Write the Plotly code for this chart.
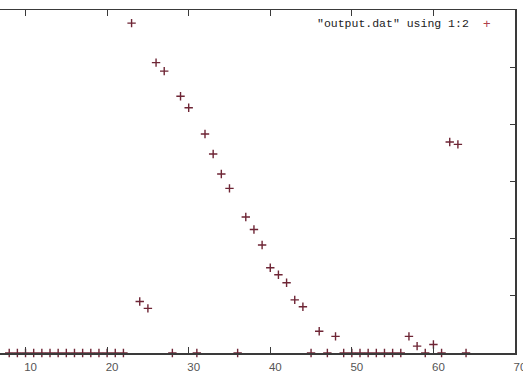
import plotly.graph_objects as go

# data (x integer, y in axis units where right-hand ticks are 1 unit apart)
x_vals = [8, 9, 10, 11, 12, 13, 14, 15, 16, 17, 18, 19, 20, 21, 22,
          23, 24, 25, 26, 27, 28, 29, 30, 31, 32, 33, 34, 35, 36, 37, 38, 39,
          40, 41, 42, 43, 44, 45, 46, 47, 48, 49, 50, 51, 52, 53, 54, 55, 56,
          57, 58, 59, 60, 61, 62, 63, 64]
y_vals = [0, 0, 0, 0, 0, 0, 0, 0, 0, 0, 0, 0, 0, 0, 0,
          5.77, 0.90, 0.78, 5.08, 4.93, 0, 4.49, 4.29, 0, 3.83, 3.48, 3.13, 2.88, 0, 2.38, 2.16, 1.89,
          1.49, 1.37, 1.23, 0.93, 0.81, 0, 0.38, 0, 0.29, 0, 0, 0, 0, 0, 0, 0, 0,
          0.29, 0.12, 0, 0.15, 0, 3.69, 3.65, 0]
x_ticks = [10, 20, 30, 40, 50, 60, 70]
y_ticks = [0, 1, 2, 3, 4, 5, 6]
series_name = '"output.dat" using 1:2'

mark_color = "#6e2535"
axis_color = "#3a3a3a"

fig = go.Figure()
fig.add_trace(go.Scatter(
    x=x_vals, y=y_vals, mode="markers", name=series_name,
    marker=dict(symbol="cross-thin", size=6, color=mark_color,
                line=dict(color=mark_color, width=1.4)),
    cliponaxis=False, showlegend=False, hoverinfo="skip",
))

fig.update_layout(
    width=523, height=376,
    margin=dict(l=0, r=8, t=10, b=23, pad=0),
    paper_bgcolor="white", plot_bgcolor="white",
    showlegend=False,
    xaxis=dict(range=[6.87, 70], tickvals=x_ticks, ticktext=[str(v) for v in x_ticks],
               automargin=False, ticklabeloverflow="allow",
               showgrid=False, zeroline=False, showline=True, linecolor=axis_color,
               linewidth=1.5, mirror="ticks", ticks="inside", ticklen=6,
               tickwidth=1.2, tickcolor=axis_color, ticklabelshift=5,
               ticklabelstandoff=3,
               tickfont=dict(family="Liberation Sans", size=11.5, color="#555555")),
    yaxis=dict(range=[0, 6], tickvals=y_ticks, side="right", automargin=False,
               showgrid=False, zeroline=False, showline=True, linecolor=axis_color,
               linewidth=1.5, mirror=False, ticks="inside", ticklen=5,
               tickwidth=1.2, tickcolor=axis_color, showticklabels=False),
    annotations=[
        dict(xref="paper", yref="paper", x=0.9146, y=0.962, xanchor="right",
             yanchor="middle", text=series_name, showarrow=False,
             font=dict(family="Liberation Mono", size=11.5, color="#222222")),
        dict(xref="paper", yref="paper", x=0.9456, y=0.962, xanchor="center",
             yanchor="middle", text="+", showarrow=False,
             font=dict(family="Liberation Sans", size=13, color="#b0404a")),
    ],
)

fig.write_html("out.html",
               config={"displayModeBar": False, "staticPlot": True},
               post_script="document.body.style.margin='0px';document.body.style.overflow='hidden';")
